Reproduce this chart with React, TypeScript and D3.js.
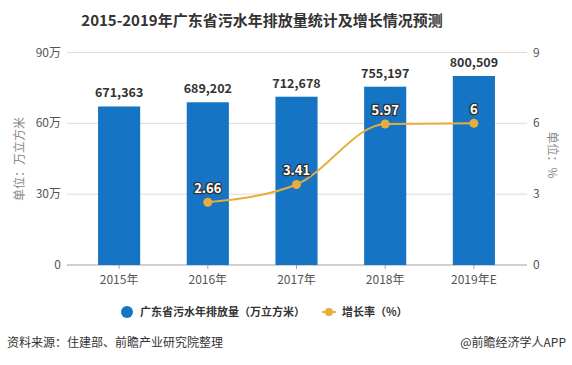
import React, { useRef, useEffect } from "react";
import * as d3 from "d3";

const years = ["2015年", "2016年", "2017年", "2018年", "2019年E"];
const discharge = [671363, 689202, 712678, 755197, 800509];
const growthYears = ["2016年", "2017年", "2018年", "2019年E"];
const growth = [2.66, 3.41, 5.97, 6];
const leftTicks = [0, 300000, 600000, 900000];
const rightTicks = [0, 3, 6, 9];

const FONT = "'Noto Sans CJK SC', 'Noto Sans', sans-serif";
const BAR = "#1574c4";
const LINE = "#e8ad3b";

export default function App() {
  const svgRef = useRef<SVGSVGElement>(null);

  useEffect(() => {
    const svg = d3.select(svgRef.current);
    svg.selectAll("*").remove();

    const width = 572;
    const height = 365;
    const top = 52.5;
    const bottom = 265;
    const gridL = 67;
    const gridR = 527;

    svg.attr("width", width).attr("height", height).style("font-family", FONT);
    svg.append("rect").attr("width", width).attr("height", height).attr("fill", "#fff");

    const x = d3.scaleBand().domain(years).range([75, 518]).paddingInner(0.525).paddingOuter(0.26);
    const y = d3.scaleLinear().domain([0, 900000]).range([bottom, top]);
    const y2 = d3.scaleLinear().domain([0, 9]).range([bottom, top]);
    const cx = (d: string) => (x(d) ?? 0) + x.bandwidth() / 2;

    // title
    svg.append("text")
      .attr("x", 262).attr("y", 26)
      .attr("text-anchor", "middle")
      .attr("font-size", 15).attr("font-weight", "bold").attr("fill", "#333")
      .text("2015-2019年广东省污水年排放量统计及增长情况预测");

    // grid
    svg.append("g").selectAll("line")
      .data(leftTicks.filter((t) => t > 0))
      .join("line")
      .attr("x1", gridL).attr("x2", gridR)
      .attr("y1", (d) => y(d)).attr("y2", (d) => y(d))
      .attr("stroke", "#dcdcdc").attr("stroke-width", 1);

    svg.append("line")
      .attr("x1", gridL).attr("x2", gridR)
      .attr("y1", bottom).attr("y2", bottom)
      .attr("stroke", "#a0a0a0");

    // left ticks
    svg.append("g").selectAll("text")
      .data(leftTicks)
      .join("text")
      .attr("x", 61).attr("y", (d) => y(d) + 4)
      .attr("text-anchor", "end")
      .attr("font-size", 12).attr("fill", "#555")
      .text((d) => (d === 0 ? "0" : `${d / 10000}万`));

    // right ticks
    svg.append("g").selectAll("text")
      .data(rightTicks)
      .join("text")
      .attr("x", 533).attr("y", (d) => y2(d) + 4)
      .attr("font-size", 12).attr("fill", "#555")
      .text((d) => d);

    // axis titles
    svg.append("text")
      .attr("transform", "translate(24,159) rotate(-90)")
      .attr("text-anchor", "middle")
      .attr("font-size", 12).attr("fill", "#888")
      .text("单位：万立方米");

    svg.append("text")
      .attr("transform", "translate(548,155) rotate(90)")
      .attr("text-anchor", "middle")
      .attr("font-size", 12).attr("fill", "#888")
      .text("单位：%");

    // x labels + ticks
    const xg = svg.append("g");
    xg.selectAll("line")
      .data(years)
      .join("line")
      .attr("x1", cx).attr("x2", cx)
      .attr("y1", bottom).attr("y2", bottom + 4)
      .attr("stroke", "#a0a0a0");
    xg.selectAll("text")
      .data(years)
      .join("text")
      .attr("x", cx).attr("y", 284)
      .attr("text-anchor", "middle")
      .attr("font-size", 12).attr("fill", "#555")
      .text((d) => d);

    // bars
    svg.append("g").selectAll("rect")
      .data(discharge)
      .join("rect")
      .attr("x", (_, i) => x(years[i]) ?? 0)
      .attr("width", x.bandwidth())
      .attr("y", (d) => y(d))
      .attr("height", (d) => bottom - y(d))
      .attr("fill", BAR);

    svg.append("g").selectAll("text")
      .data(discharge)
      .join("text")
      .attr("x", (_, i) => cx(years[i]))
      .attr("y", (d) => y(d) - 9)
      .attr("text-anchor", "middle")
      .attr("font-size", 12.5).attr("font-weight", "bold").attr("fill", "#333")
      .text((d) => d3.format(",")(d));

    // line
    const pts = growth.map((v, i) => ({ x: cx(growthYears[i]), y: y2(v), v }));
    const line = d3.line<{ x: number; y: number }>()
      .x((d) => d.x).y((d) => d.y)
      .curve(d3.curveMonotoneX);

    svg.append("path")
      .datum(pts)
      .attr("fill", "none")
      .attr("stroke", LINE)
      .attr("stroke-width", 2)
      .attr("d", line);

    svg.append("g").selectAll("circle")
      .data(pts)
      .join("circle")
      .attr("cx", (d) => d.x).attr("cy", (d) => d.y)
      .attr("r", 4.5)
      .attr("fill", LINE);

    svg.append("g").selectAll("text")
      .data(pts)
      .join("text")
      .attr("x", (d) => d.x).attr("y", (d) => d.y - 9)
      .attr("text-anchor", "middle")
      .attr("font-size", 13).attr("font-weight", "bold")
      .attr("fill", "#fff")
      .attr("stroke", "#333").attr("stroke-width", 2.5)
      .attr("paint-order", "stroke")
      .text((d) => d.v);

    // legend
    const lg = svg.append("g").attr("transform", "translate(0,312)");
    lg.append("circle").attr("cx", 127).attr("cy", 0).attr("r", 6).attr("fill", BAR);
    lg.append("text")
      .attr("x", 140).attr("y", 4)
      .attr("font-size", 11).attr("font-weight", "bold").attr("fill", "#333")
      .text("广东省污水年排放量（万立方米）");
    lg.append("line")
      .attr("x1", 322).attr("x2", 336).attr("y1", 0).attr("y2", 0)
      .attr("stroke", LINE).attr("stroke-width", 2);
    lg.append("circle").attr("cx", 329).attr("cy", 0).attr("r", 4).attr("fill", LINE);
    lg.append("text")
      .attr("x", 342).attr("y", 4)
      .attr("font-size", 11).attr("font-weight", "bold").attr("fill", "#333")
      .text("增长率（%）");

    // footer
    svg.append("text")
      .attr("x", 7).attr("y", 347)
      .attr("font-size", 12).attr("fill", "#333")
      .text("资料来源：住建部、前瞻产业研究院整理");
    svg.append("text")
      .attr("x", 566).attr("y", 347)
      .attr("text-anchor", "end")
      .attr("font-size", 12).attr("fill", "#333")
      .text("@前瞻经济学人APP");
  }, []);

  return (
    <svg ref={svgRef} style={{ position: "absolute", left: 0, top: 0, display: "block" }} />
  );
}
